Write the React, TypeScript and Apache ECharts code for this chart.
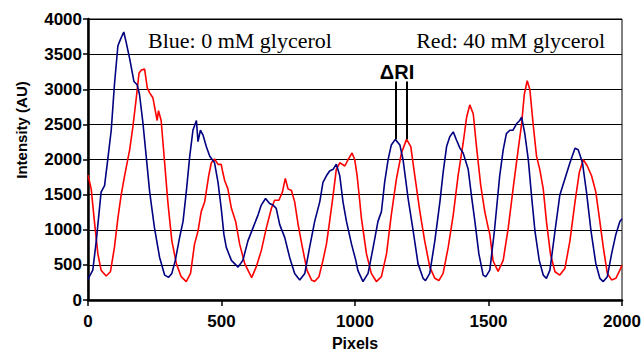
import React, { useEffect, useRef } from "react";
import * as echarts from "echarts";

// Traces: [pixel, intensity (AU)]
const blueTrace: number[][] = [
  [0, 300], [18, 426], [31, 843], [49, 1537], [62, 1630], [74, 2000], [87, 2417], [99, 3065],
  [112, 3620], [122, 3713], [134, 3815], [143, 3667], [156, 3435], [172, 3111], [184, 3065],
  [193, 2926], [206, 2510], [218, 2046], [231, 1537], [249, 1028], [268, 611], [287, 356],
  [302, 324], [314, 380], [327, 565], [343, 889], [356, 1120], [368, 1537], [381, 2046],
  [393, 2417], [406, 2556], [412, 2255], [421, 2417], [431, 2347], [443, 2185], [456, 2046],
  [474, 1954], [487, 1676], [499, 1306], [509, 935], [518, 750], [537, 565], [562, 470],
  [580, 565], [599, 843], [618, 1028], [637, 1213], [649, 1352], [665, 1445], [680, 1375],
  [693, 1352], [705, 1306], [718, 1074], [737, 889], [755, 611], [774, 380], [793, 287],
  [812, 380], [830, 750], [849, 1120], [868, 1398], [880, 1676], [893, 1769], [905, 1838],
  [918, 1861], [930, 1935], [943, 1769], [955, 1398], [968, 1120], [987, 796], [1003, 565],
  [1011, 420], [1030, 264], [1049, 380], [1068, 750], [1086, 1120], [1099, 1259], [1111, 1676],
  [1124, 2000], [1136, 2208], [1151, 2287], [1168, 2208], [1180, 2000], [1199, 1445],
  [1218, 982], [1236, 519], [1255, 310], [1264, 278], [1280, 380], [1299, 843], [1318, 1398],
  [1330, 1815], [1343, 2185], [1355, 2324], [1368, 2394], [1380, 2278], [1393, 2162],
  [1405, 2093], [1424, 1861], [1436, 1491], [1449, 1120], [1464, 657], [1480, 356], [1490, 333],
  [1505, 426], [1522, 980], [1542, 1769], [1555, 2139], [1567, 2370], [1580, 2417], [1592, 2417],
  [1605, 2509], [1617, 2556], [1624, 2602], [1636, 2370], [1649, 2000], [1661, 1491],
  [1674, 982], [1690, 565], [1705, 356], [1717, 310], [1730, 426], [1749, 982], [1767, 1491],
  [1786, 1722], [1805, 1954], [1824, 2162], [1836, 2139], [1852, 1954], [1867, 1537],
  [1884, 982], [1902, 519], [1917, 310], [1930, 264], [1945, 333], [1961, 657], [1977, 935],
  [1992, 1120], [2000, 1157],
];

const redTrace: number[][] = [
  [0, 1778], [12, 1583], [24, 1120], [37, 657], [49, 426], [68, 343], [84, 403], [99, 750],
  [112, 1167], [124, 1491], [137, 1769], [156, 2139], [168, 2463], [181, 2880], [191, 3227],
  [200, 3273], [212, 3287], [222, 3019], [231, 2949], [243, 2880], [252, 2695], [259, 2556],
  [264, 2695], [274, 2556], [287, 1954], [299, 1398], [314, 843], [331, 519], [349, 333],
  [368, 264], [384, 380], [399, 796], [412, 982], [424, 1259], [437, 1398], [452, 1769],
  [462, 1954], [474, 2009], [487, 1931], [499, 1931], [505, 1815], [512, 1699], [524, 1583],
  [537, 1306], [553, 1120], [568, 796], [587, 519], [605, 380], [613, 320], [630, 472],
  [649, 704], [668, 1028], [687, 1306], [699, 1421], [715, 1421], [728, 1537], [739, 1732],
  [749, 1583], [762, 1560], [774, 1398], [787, 1074], [803, 750], [820, 426], [837, 287],
  [849, 264], [865, 333], [880, 565], [893, 796], [905, 1120], [918, 1491], [930, 1861],
  [943, 1954], [962, 1908], [974, 2000], [989, 2093], [999, 2000], [1008, 1769], [1018, 1400],
  [1024, 1167], [1043, 657], [1061, 380], [1080, 264], [1099, 333], [1118, 657], [1136, 1213],
  [1155, 1722], [1174, 2093], [1193, 2287], [1209, 2185], [1224, 1769], [1243, 1259],
  [1261, 843], [1280, 472], [1299, 310], [1314, 278], [1330, 380], [1349, 750], [1368, 1213],
  [1386, 1769], [1405, 2232], [1418, 2602], [1430, 2778], [1443, 2648], [1455, 2185],
  [1471, 1630], [1486, 1259], [1499, 1028], [1505, 935], [1517, 560], [1536, 410], [1555, 565],
  [1574, 1028], [1592, 1583], [1611, 2139], [1624, 2509], [1634, 2926], [1645, 3121],
  [1655, 2995], [1667, 2509], [1680, 2046], [1692, 1861], [1705, 1583], [1717, 1120],
  [1732, 657], [1749, 403], [1767, 356], [1786, 449], [1805, 843], [1824, 1398], [1840, 1815],
  [1855, 2000], [1870, 1908], [1886, 1769], [1902, 1537], [1917, 1120], [1930, 750],
  [1945, 380], [1961, 287], [1977, 310], [1992, 426], [2000, 495],
];

// ΔRI markers: peak pixel positions, from peak height up to the label
const deltaRIPeaks = [1151, 1193];
const deltaRIBottom = 2290;
const deltaRITop = 3110;

const xTickMin = 0;
const xTickMax = 2000;
const xTickStep = 500;
const yTickMin = 0;
const yTickMax = 4000;
const yTickStep = 500;

const SANS = "'Liberation Sans', Arial, Helvetica, sans-serif";
const SERIF = "'Liberation Serif', 'Times New Roman', Times, serif";

export default function App() {
  const ref = useRef<HTMLDivElement>(null);

  useEffect(() => {
    if (!ref.current) return;
    const chart = echarts.init(ref.current, null, { renderer: "svg" });
    chart.setOption({
      animation: false,
      backgroundColor: "#ffffff",
      grid: {
        left: 88,
        right: 22,
        top: 19,
        bottom: 49,
        show: true,
        borderColor: "#000",
        borderWidth: 1,
        backgroundColor: "transparent",
      },
      xAxis: {
        type: "value",
        min: xTickMin,
        max: xTickMax,
        interval: xTickStep,
        name: "Pixels",
        nameLocation: "middle",
        nameGap: 33,
        nameTextStyle: { fontFamily: SANS, fontWeight: "bold", fontSize: 16, color: "#000" },
        axisLine: { show: true, lineStyle: { color: "#000", width: 2.5 } },
        axisTick: { show: true, inside: false, length: 6, lineStyle: { color: "#000", width: 1.5 } },
        axisLabel: {
          fontFamily: SANS,
          fontWeight: "bold",
          fontSize: 17,
          color: "#000",
          margin: 13,
          formatter: (v: number) => String(v),
        },
        splitLine: { show: false },
      },
      yAxis: {
        type: "value",
        min: yTickMin,
        max: yTickMax,
        interval: yTickStep,
        axisLine: { show: true, lineStyle: { color: "#000", width: 2.5 } },
        axisTick: { show: true, inside: false, length: 5, lineStyle: { color: "#000", width: 1.5 } },
        axisLabel: {
          fontFamily: SANS,
          fontWeight: "bold",
          fontSize: 17,
          color: "#000",
          margin: 6,
          formatter: (v: number) => String(v),
        },
        splitLine: { show: true, lineStyle: { color: "#000", width: 1 } },
      },
      series: [
        {
          name: "Blue: 0 mM glycerol",
          type: "line",
          data: blueTrace,
          showSymbol: false,
          symbol: "none",
          lineStyle: { color: "#000080", width: 1.6 },
          z: 3,
          markLine: {
            silent: true,
            symbol: ["none", "none"],
            label: { show: false },
            lineStyle: { color: "#000", width: 2, type: "solid" },
            data: deltaRIPeaks.map((p) => [
              { coord: [p, deltaRIBottom] },
              { coord: [p, deltaRITop] },
            ]),
          },
        },
        {
          name: "Red: 40 mM glycerol",
          type: "line",
          data: redTrace,
          showSymbol: false,
          symbol: "none",
          lineStyle: { color: "#ff0000", width: 1.6 },
          z: 2,
        },
      ],
      graphic: [
        {
          type: "text",
          x: 148,
          y: 40,
          style: {
            text: "Blue: 0 mM glycerol",
            fontFamily: SERIF,
            fontSize: 22,
            fill: "#000",
            align: "left",
            verticalAlign: "middle",
          },
        },
        {
          type: "text",
          x: 605,
          y: 40,
          style: {
            text: "Red: 40 mM glycerol",
            fontFamily: SERIF,
            fontSize: 22,
            fill: "#000",
            align: "right",
            verticalAlign: "middle",
          },
        },
        {
          type: "text",
          x: 397,
          y: 72,
          style: {
            text: "ΔRI",
            fontFamily: SANS,
            fontWeight: "bold",
            fontSize: 20,
            fill: "#000",
            align: "center",
            verticalAlign: "middle",
          },
        },
        {
          type: "text",
          x: 21,
          y: 130,
          rotation: Math.PI / 2,
          style: {
            text: "Intensity (AU)",
            fontFamily: SANS,
            fontWeight: "bold",
            fontSize: 15,
            fill: "#000",
            align: "center",
            verticalAlign: "middle",
          },
        },
      ],
    });
    return () => chart.dispose();
  }, []);

  return (
    <div
      ref={ref}
      style={{ position: "fixed", left: 0, top: 0, width: 644, height: 356, background: "#fff" }}
    />
  );
}
